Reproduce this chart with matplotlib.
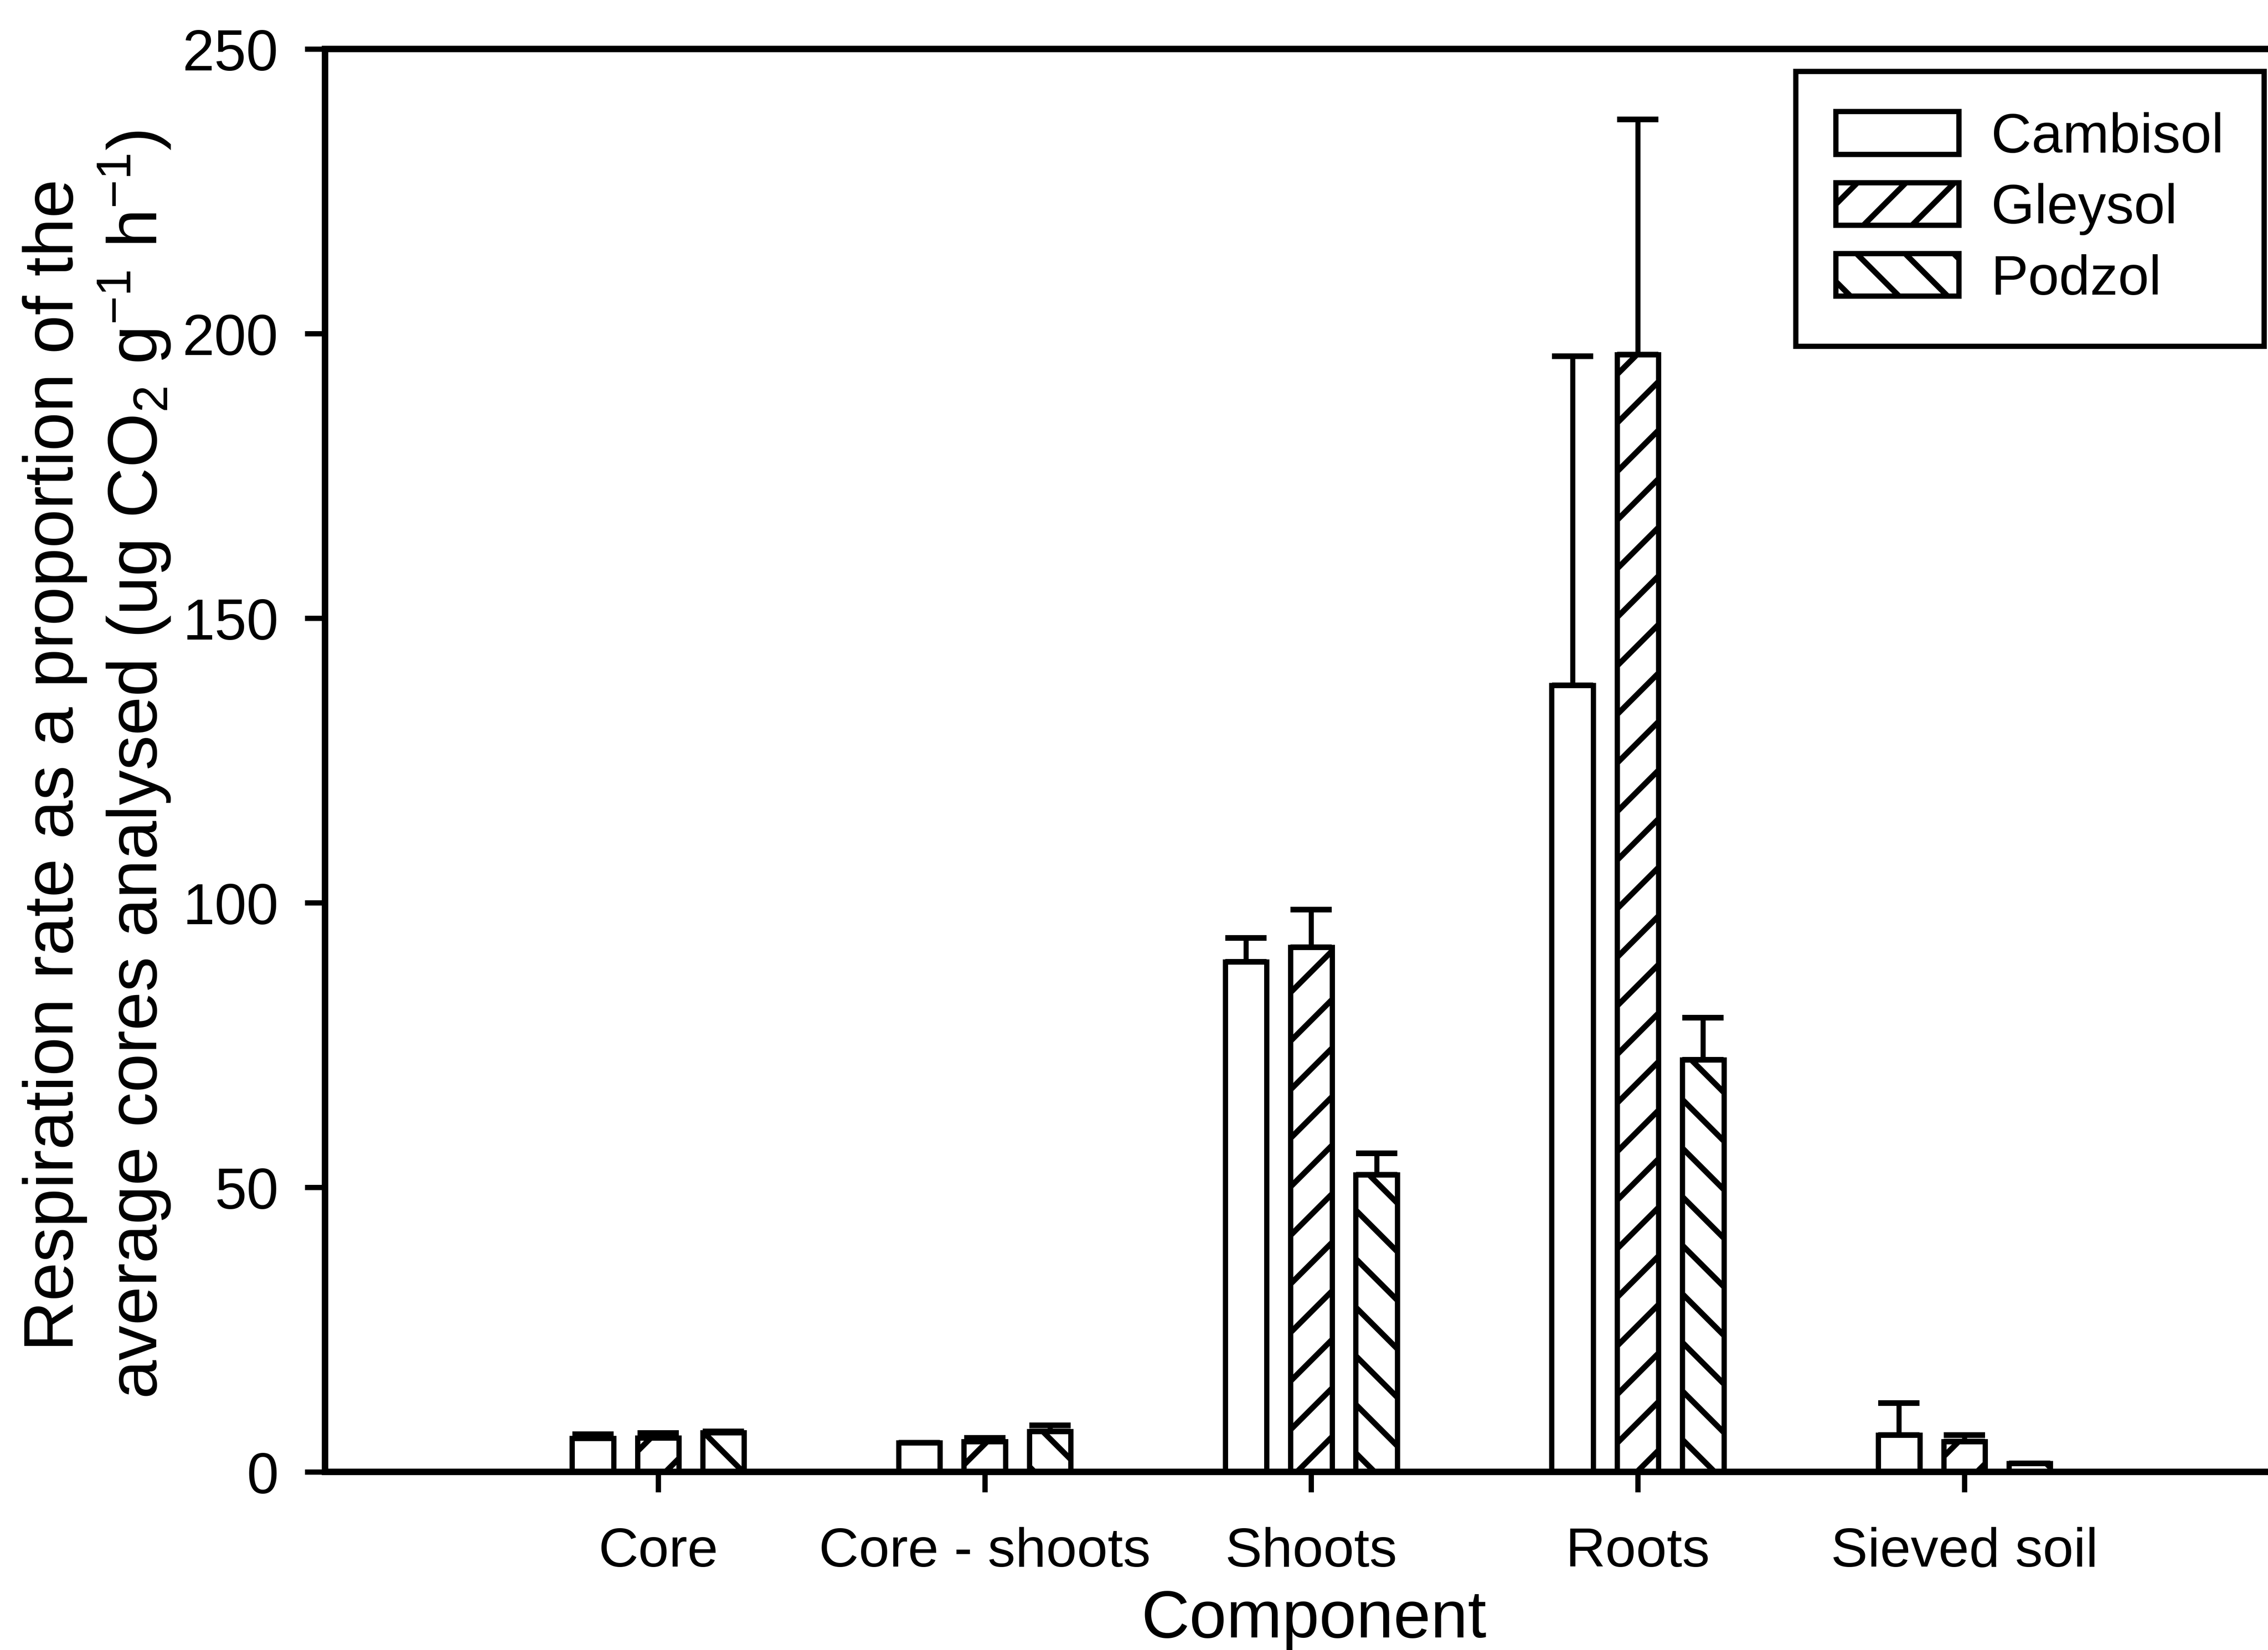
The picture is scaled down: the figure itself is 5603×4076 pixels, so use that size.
import numpy as np
import matplotlib
matplotlib.use("Agg")
import matplotlib.pyplot as plt

plt.rcParams['font.family'] = ['Liberation Sans', 'DejaVu Sans']
plt.rcParams['mathtext.fontset'] = 'custom'
plt.rcParams['mathtext.rm'] = 'Liberation Sans'
plt.rcParams['mathtext.it'] = 'Liberation Sans:italic'
plt.rcParams['mathtext.default'] = 'rm'
plt.rcParams['hatch.linewidth'] = 2.8
plt.rcParams['hatch.color'] = 'black'

# components on the x axis
components = ['Core', 'Core - shoots', 'Shoots', 'Roots', 'Sieved soil']

# mean respiration per soil type
cambisol = [5.9, 5.1, 89.6, 138.2, 6.5]
gleysol = [6.0, 5.3, 92.2, 196.3, 5.3]
podzol = [6.9, 7.1, 52.2, 72.4, 1.5]

# upper end of the error bars
cambisol_top = [6.6, 5.1, 93.8, 196.0, 12.1]
gleysol_top = [6.8, 6.0, 98.8, 237.6, 6.5]
podzol_top = [7.1, 8.2, 56.0, 79.8, 1.5]

soils = ['Cambisol', 'Gleysol', 'Podzol']
hatches = ['', '/', '\\']

W, H, DPI = 5603, 4077, 360
fig = plt.figure(figsize=(W / DPI, H / DPI), dpi=DPI)
ax = fig.add_axes([803 / W, 1 - 3637 / H, 1 - 803 / W, (3637 - 122) / H])

x = np.arange(len(components))
offsets = [-0.2, 0.0, 0.2]
bw = 0.127
means = [cambisol, gleysol, podzol]
tops = [cambisol_top, gleysol_top, podzol_top]

for i in range(3):
    m = np.array(means[i])
    t = np.array(tops[i])
    ax.bar(x + offsets[i], m, bw, color='white', edgecolor='black',
           linewidth=2.6, hatch=hatches[i], label=soils[i], zorder=2)
    ax.errorbar(x + offsets[i], m, yerr=[np.zeros_like(m), t - m], fmt='none',
                ecolor='black', elinewidth=2.5, capsize=10.2, capthick=2.8, zorder=3)

ax.set_xlim(-1.02, 4.93)
ax.set_ylim(0, 250)
ax.set_yticks([0, 50, 100, 150, 200, 250])
ax.set_xticks(x)
ax.set_xticklabels(components)

for s in ['left', 'top', 'bottom']:
    ax.spines[s].set_linewidth(3.2)
ax.spines['right'].set_visible(False)

ax.tick_params(axis='y', length=10, width=2.6, pad=13, labelsize=28.4)
ax.tick_params(axis='x', length=10, width=2.6, pad=17, labelsize=27.3)

ax.set_xlabel('Component', fontsize=33)
ax.xaxis.set_label_coords(0.509, -0.082)

fig.text(240 / W, 1 - 1890 / H,
         'Respiration rate as a proportion of the\n'
         'average cores analysed (ug CO$_2$ g$^{-1}$ h$^{-1}$)',
         rotation=90, ha='center', va='center', multialignment='center',
         fontsize=34.5, linespacing=1.15)

leg = ax.legend(loc='upper right', bbox_to_anchor=(5593 / W, 1 - 177 / H),
                bbox_transform=fig.transFigure, borderaxespad=0,
                fontsize=27.6, handlelength=2.2, handleheight=0.8,
                handletextpad=0.58, labelspacing=0.33, borderpad=0.72,
                fancybox=False, framealpha=1, edgecolor='black')
leg.get_frame().set_linewidth(2.6)

fig.savefig('out.png', dpi=DPI)
